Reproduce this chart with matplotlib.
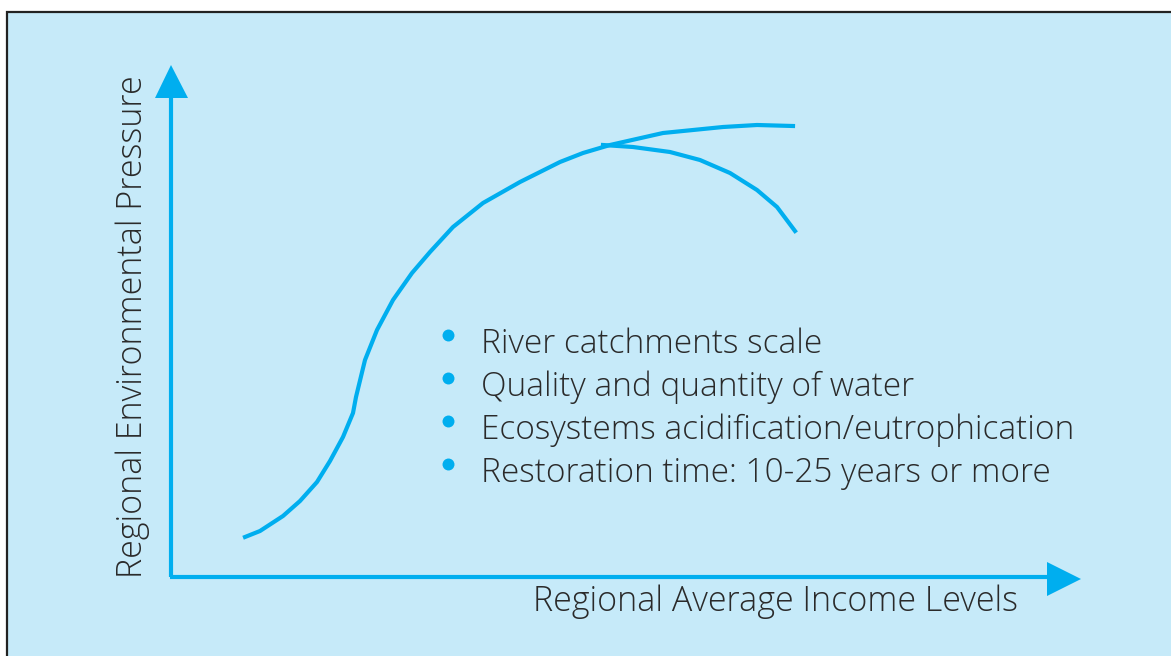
import matplotlib
matplotlib.use("Agg")
import matplotlib.pyplot as plt
from matplotlib.patches import Rectangle, Polygon

# Curve (x: income, y: pressure, pixel-like units)
main_x = [245, 260, 283, 300, 317, 330, 343, 353, 356, 365, 377, 393, 412, 430, 453, 483, 520,
          560, 583, 610, 663, 723, 757, 793]
main_y = [537, 531, 516, 501, 482, 461, 437, 413, 397, 360, 330, 300, 273, 252, 227, 203, 182,
          162, 153, 145, 133, 127, 125, 126]
branch_x = [603, 633, 670, 700, 730, 757, 777, 795]
branch_y = [145, 147, 152, 160, 173, 190, 207, 231]

bullets = [
    "River catchments scale",
    "Quality and quantity of water",
    "Ecosystems acidification/eutrophication",
    "Restoration time: 10-25 years or more",
]

BLUE = "#00aeef"
BG = "#c6eaf9"
TXT = "#2a2a2a"
plt.rcParams["font.family"] = ["Open Sans", "DejaVu Sans"]
plt.rcParams["font.weight"] = "light"

fig = plt.figure(figsize=(11.71, 6.56), dpi=100)
ax = fig.add_axes([0, 0, 1, 1])
ax.set_xlim(0, 1171)
ax.set_ylim(656, 0)
ax.axis("off")

# panel
ax.add_patch(Rectangle((6.5, 11.5), 1200, 700, facecolor=BG, edgecolor="#222222", lw=1.6))

# axes with arrow heads
ax.plot([171, 171], [577, 96], color=BLUE, lw=3, solid_capstyle="butt")
ax.plot([169.5, 1048], [577, 577], color=BLUE, lw=3, solid_capstyle="butt")
ax.add_patch(Polygon([[155, 98], [188, 98], [171, 65]], color=BLUE, lw=0))
ax.add_patch(Polygon([[1047, 562], [1047, 596], [1081, 579]], color=BLUE, lw=0))

ax.plot(main_x, main_y, color=BLUE, lw=3, solid_joinstyle="round")
ax.plot(branch_x, branch_y, color=BLUE, lw=3, solid_joinstyle="round")

ax.text(142, 578, "Regional Environmental Pressure", rotation=90, rotation_mode="anchor",
        ha="left", va="baseline", fontsize=24.5, color=TXT)
ax.text(1018, 611, "Regional Average Income Levels", ha="right", va="baseline",
        fontsize=24.5, color=TXT)

for i, b in enumerate(bullets):
    base = 353 + i * 43
    ax.plot(448, base - 18, "o", color=BLUE, ms=8.6, mew=0)
    ax.text(481, base, b, ha="left", va="baseline", fontsize=24, color=TXT)

fig.savefig("out.png", dpi=100)
